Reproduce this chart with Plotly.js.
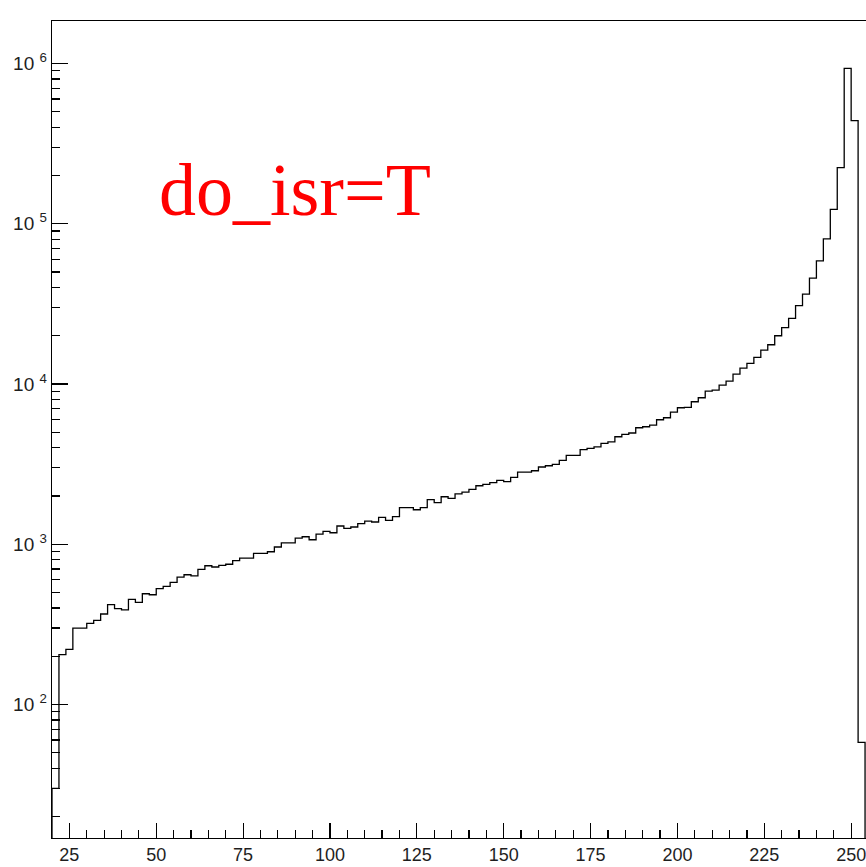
<!DOCTYPE html>
<html>
<head>
<meta charset="utf-8">
<script src="https://cdn.plot.ly/plotly-3.0.1.min.js"></script>
<style>
  html, body { margin: 0; padding: 0; background: #ffffff; overflow: hidden; }
  #chart { width: 880px; height: 867px; }
</style>
</head>
<body>
<div id="chart"></div>
<script>
// Histogram binning: 2-unit bins starting at 20
const binLow = 20;
const binWidth = 2;

// Bin contents (events per bin)
const binCounts = [
  30, 205, 221, 300, 300, 321, 335, 367, 420, 396,
  389, 453, 434, 491, 484, 528, 546, 578, 624, 645,
  634, 697, 734, 721, 738, 750, 790, 820, 820, 878,
  878, 898, 961, 1021, 1021, 1093, 1114, 1067, 1158, 1203,
  1180, 1300, 1257, 1281, 1343, 1396, 1377, 1473, 1410, 1486,
  1691, 1691, 1641, 1691, 1897, 1816, 1979, 1933, 2065, 2117,
  2200, 2318, 2365, 2421, 2506, 2456, 2614, 2820, 2820, 2875,
  3033, 3090, 3149, 3335, 3586, 3586, 3890, 3960, 4055, 4255,
  4354, 4686, 4851, 4944, 5333, 5410, 5542, 5984, 6155, 6683,
  7107, 7148, 7745, 8204, 9034, 9165, 9846, 10430, 11530, 12570,
  13440, 14650, 16260, 17570, 20000, 22500, 25700, 30800, 36400, 45800,
  58700, 80500, 123000, 224000, 931000, 440000, 58
];

// Axis ticks and labels
const xMajorStep = 25;
const yMajorVals = [1e2, 1e3, 1e4, 1e5, 1e6];
const yMajorText = ["10\u00a0<sup>2</sup>", "10\u00a0<sup>3</sup>", "10\u00a0<sup>4</sup>",
                    "10\u00a0<sup>5</sup>", "10\u00a0<sup>6</sup>"];
const labelText = "do_isr=T";

// Axis ranges
const xRange = [20, 256];
const yLogRange = [1.167, 6.265];

// Minor log ticks: 2..9 in every decade
const yMinorVals = [];
for (let e = 1; e <= 6; e++) {
  for (let m = 2; m <= 9; m++) yMinorVals.push(m * Math.pow(10, e));
}

// Build the outline of the histogram as a step line that starts and ends
// below the axis floor (clipped by the frame), like an unfilled TH1
const floorVal = 1;
const xs = [binLow];
const ys = [floorVal];
binCounts.forEach((c, i) => {
  xs.push(binLow + i * binWidth);
  ys.push(c);
});
const xEnd = binLow + binCounts.length * binWidth;
xs.push(xEnd, xEnd);
ys.push(binCounts[binCounts.length - 1], floorVal);

const trace = {
  type: 'scatter',
  mode: 'lines',
  x: xs,
  y: ys,
  line: { shape: 'hv', color: '#000000', width: 1.3 },
  hoverinfo: 'skip'
};

const xTickFont = { family: 'Liberation Sans, Arial, sans-serif', size: 18, color: '#1e1e1e' };
const yTickFont = { family: 'Liberation Sans, Arial, sans-serif', size: 19, color: '#1e1e1e' };

const layout = {
  width: 880,
  height: 867,
  margin: { l: 52, r: 8, t: 21, b: 29 },
  paper_bgcolor: '#ffffff',
  plot_bgcolor: '#ffffff',
  showlegend: false,
  xaxis: {
    range: xRange,
    showgrid: false,
    zeroline: false,
    showline: true,
    mirror: true,
    linecolor: '#000000',
    linewidth: 1.3,
    ticks: 'inside',
    ticklen: 15,
    tickwidth: 1.2,
    tickcolor: '#000000',
    tick0: 0,
    dtick: xMajorStep,
    tickfont: xTickFont,
    minor: { dtick: 5, tick0: 0, ticks: 'inside', ticklen: 8, tickwidth: 1.2, tickcolor: '#000000', showgrid: false }
  },
  yaxis: {
    type: 'log',
    range: yLogRange,
    showgrid: false,
    zeroline: false,
    showline: true,
    mirror: true,
    linecolor: '#000000',
    linewidth: 1.3,
    ticks: 'inside',
    ticklen: 16,
    tickwidth: 1.2,
    tickcolor: '#000000',
    tickmode: 'array',
    tickvals: yMajorVals,
    ticktext: yMajorText,
    tickfont: yTickFont,
    minor: { tickmode: 'array', tickvals: yMinorVals, ticks: 'inside', ticklen: 8, tickwidth: 1.2, tickcolor: '#000000', showgrid: false }
  },
  annotations: [{
    text: labelText,
    xref: 'paper',
    yref: 'paper',
    x: 0.1285,
    y: 0.793,
    xanchor: 'left',
    yanchor: 'middle',
    showarrow: false,
    font: { family: 'Liberation Serif, Times New Roman, serif', size: 74, color: '#ff0000' }
  }]
};

Plotly.newPlot('chart', [trace], layout, { staticPlot: true, displayModeBar: false });
</script>
</body>
</html>
